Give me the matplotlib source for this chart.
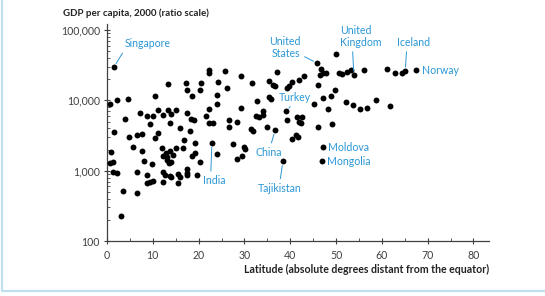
import matplotlib
matplotlib.use("Agg")
import matplotlib.pyplot as plt
from matplotlib.lines import Line2D
from matplotlib.ticker import FixedLocator, LogLocator, FuncFormatter, NullFormatter

# Countries without a label: latitude (absolute degrees) and GDP per capita, 2000
latitude = [
    0.7, 2.2, 4.6, 3.9, 1.5, 4.8, 6.6, 7.6, 7.2, 8.7, 10.0, 10.5, 11.1, 9.4,
    10.5, 11.1, 12.2, 13.3, 14.0, 15.1, 13.8, 13.3, 15.9, 17.2, 17.5, 18.6,
    17.5, 18.3, 19.0, 16.8, 18.1, 20.5, 20.3, 21.6, 22.3, 22.3, 23.1, 22.3,
    22.3, 24.0, 24.2, 24.0, 25.8, 26.2, 26.6, 26.6, 28.4, 29.3, 29.3, 31.4,
    31.9, 31.7, 32.8, 32.5, 33.2, 34.1, 34.1, 35.0, 35.4, 36.2, 36.7, 35.4,
    35.8, 37.1, 39.3, 39.7, 40.4, 41.9, 43.0, 50.0, 46.7, 47.2, 46.5, 47.8,
    50.7, 51.3, 52.4, 53.3, 56.1, 61.1, 62.9, 64.4, 46.1, 49.8, 48.9, 47.2,
    45.2, 48.3, 52.2, 53.7, 55.2, 56.8, 58.7, 61.8, 39.3, 41.5, 42.6, 41.9,
    42.4, 46.1, 49.1, 40.4, 41.3, 41.7, 0.9, 0.7, 1.3, 1.3, 2.2, 3.5, 3.1,
    6.6, 5.7, 7.6, 8.1, 9.8, 6.6, 8.7, 8.7, 9.4, 10.0, 12.0, 12.9, 12.2,
    13.1, 13.8, 14.4, 15.1, 13.1, 13.5, 14.0, 12.2, 12.7, 13.8, 12.2, 15.5,
    15.5, 16.6, 17.5, 17.5, 17.5, 18.6, 19.2, 19.7, 20.3, 24.0, 27.5, 28.4,
    29.5, 30.1, 29.9, 19.2, 14.0, 15.9,
]
gdp = [
    8830, 10100, 10400, 5400, 3520, 2990, 3190, 3300, 6570, 5950, 5950,
    11500, 7250, 4580, 2900, 3410, 6150, 7250, 6360, 7250, 4730, 17000, 4020,
    17600, 14000, 11500, 6570, 5400, 5220, 2710, 3640, 17600, 14000, 5950,
    7490, 4730, 4730, 26900, 24400, 11900, 18200, 8830, 26000, 14900, 5220,
    4150, 4890, 22100, 7740, 3890, 3640, 17600, 9750, 5950, 5760, 7020, 6150,
    4150, 18800, 16500, 15900, 11100, 10400, 25200, 14900, 15900, 18200,
    19400, 22100, 45500, 27800, 24400, 22900, 24400, 24400, 23600, 25200,
    26900, 26900, 27800, 24400, 24400, 16500, 14000, 11500, 10700, 8830,
    7490, 9420, 8550, 7490, 7740, 10100, 8270, 5220, 5760, 5760, 4890, 4730,
    4150, 4580, 2800, 3190, 2990, 1830, 1270, 1320, 950, 920, 510, 225, 475,
    2150, 1890, 1360, 1230, 950, 860, 660, 685, 705, 2080, 1770, 1600, 1550,
    1890, 1660, 2080, 1410, 1270, 1320, 950, 860, 830, 685, 890, 660, 2080,
    1050, 920, 860, 1600, 1770, 860, 1320, 1710, 2380, 1450, 1600, 2020, 2150,
    2460, 805, 805,
]

# Labelled countries
named_countries = ["Singapore", "United\nStates", "United\nKingdom", "Iceland",
                   "Norway", "Turkey", "China", "India", "Tajikistan",
                   "Moldova", "Mongolia"]
named_latitude = [1.5, 45.9, 53.9, 65.1, 67.5, 39.1, 36.7, 22.9, 38.4, 47.2, 46.9]
named_gdp = [29700, 33900, 22900, 26000, 26900, 7020, 3760, 2460, 1360, 2150, 1360]

y_ticks = [100, 1000, 10000, 100000]
x_ticks = [0, 10, 20, 30, 40, 50, 60, 70, 80]

BLUE = "#2b97d4"
GREY = "#404040"

# label placement: (offset in points, ha, relpos for the leader line or None)
label_style = {
    "Singapore": ((8, 17), "left", (0.0, 0.0)),
    "United\nStates": ((-12, 11), "right", (1.0, 0.2)),
    "United\nKingdom": ((-10, 28), "left", (0.3, 0.0)),
    "Iceland": ((-6, 21), "left", (0.3, 0.0)),
    "Norway": ((4, 0), "left", None),
    "Turkey": ((-5, 10), "left", (0.45, 0.0)),
    "China": ((-14, -16), "left", (0.55, 1.0)),
    "India": ((-6.5, -27), "left", (0.35, 1.0)),
    "Tajikistan": ((-18, -19.5), "left", (0.5, 1.0)),
    "Moldova": ((3.5, 0), "left", None),
    "Mongolia": ((3.5, 0), "left", None),
}


def create_scatter():
    """Draw the latitude vs GDP scatter"""
    plt.rcParams['font.family'] = ['Lato', 'DejaVu Sans']

    fig = plt.figure(figsize=(5.45, 2.96), dpi=100)
    ax = fig.add_axes([0.1963, 0.1858, 0.701, 0.733])

    ax.scatter(latitude, gdp, s=18, color="black", linewidths=0, zorder=3)
    ax.scatter(named_latitude, named_gdp, s=18, color="black", linewidths=0, zorder=3)

    ax.set_yscale("log")
    ax.set_xlim(0, 83.4)
    ax.set_ylim(100, 1.22e5)

    ax.yaxis.set_major_locator(FixedLocator(y_ticks))
    ax.yaxis.set_minor_locator(LogLocator(base=10, subs=range(2, 10)))
    ax.yaxis.set_major_formatter(FuncFormatter(lambda v, p: f"{v:,.0f}"))
    ax.yaxis.set_minor_formatter(NullFormatter())
    ax.xaxis.set_major_locator(FixedLocator(x_ticks))
    ax.xaxis.set_minor_locator(FixedLocator([t + 5 for t in x_ticks]))

    for side in ["top", "right"]:
        ax.spines[side].set_visible(False)
    for side in ["left", "bottom"]:
        ax.spines[side].set_color(GREY)
        ax.spines[side].set_linewidth(0.9)

    ax.tick_params(which="major", direction="inout", length=5, width=0.8,
                   color=GREY, labelcolor=GREY, labelsize=7.6)
    ax.tick_params(which="minor", direction="in", length=2.5, width=0.6, color=GREY)
    ax.tick_params(axis="y", which="major", pad=2.5)
    ax.tick_params(axis="x", which="major", pad=4)

    # country labels
    for name, lat, val in zip(named_countries, named_latitude, named_gdp):
        offset, ha, relpos = label_style[name]
        arrow = None
        if relpos is not None:
            arrow = dict(arrowstyle="-", color=BLUE, lw=0.7, relpos=relpos,
                         shrinkA=1, shrinkB=3)
        ax.annotate(name, xy=(lat, val), xytext=offset, textcoords="offset points",
                    ha=ha, va="center", fontsize=7.6, color=BLUE,
                    linespacing=1.1, arrowprops=arrow, zorder=4)

    fig.text(0.1156, 0.956, "GDP per capita, 2000 (ratio scale)", fontsize=7,
             fontweight="bold", color="#222222", ha="left", va="center")
    fig.text(0.897, 0.091, "Latitude (absolute degrees distant from the equator)",
             fontsize=7.6, fontweight="bold", color="#222222", ha="right", va="center")

    # light blue frame on the left and bottom
    fig.add_artist(Line2D([0.004, 0.004, 1.0], [1.0, 0.017, 0.017],
                          transform=fig.transFigure, color="#bfe0f1", lw=1.6))

    fig.savefig("out.png", dpi=100)
    print("Chart saved as 'out.png'")


def main():
    create_scatter()


if __name__ == "__main__":
    main()
